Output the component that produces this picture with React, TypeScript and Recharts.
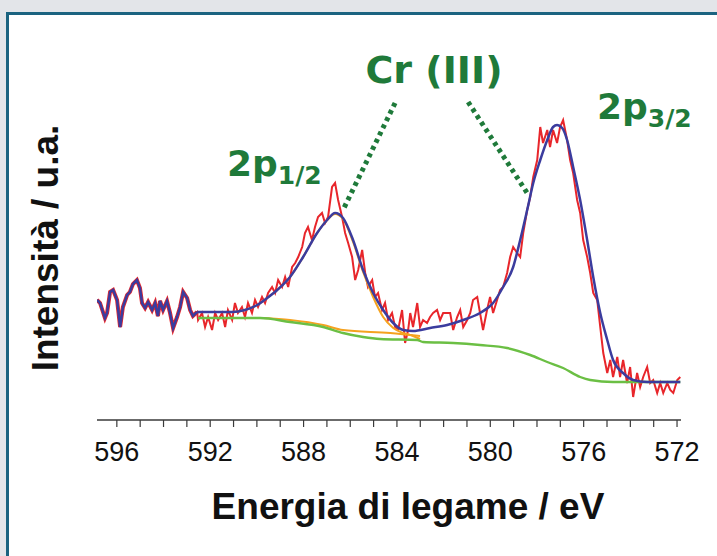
import React from 'react';
import { LineChart, Line, XAxis, YAxis, ReferenceLine } from 'recharts';

// Region left of the fit window (raw data, drawn by both the raw and envelope series)
const leftEnergy = [596.85,596.72,596.51,596.42,596.29,596.16,595.99,595.86,595.74,595.56,595.44,595.31,595.14,595.01,594.92,594.79,594.66,594.49,594.36,594.24,594.15,594.02,593.85,593.72,593.59,593.42,593.29,593.16,592.99,592.86,592.74,592.56];
const leftIntensity = [120,117,102,107,128,130,120,93,113,125,128,136,140,132,117,112,118,110,117,104,119,110,119,107,92,103,113,128,122,110,104,108];

// Raw spectrum in the fit window
const rawEnergy = [592.52,592.35,592.22,592.09,591.92,591.79,591.66,591.49,591.36,591.24,591.06,590.94,590.81,590.64,590.51,590.38,590.21,590.08,589.95,589.78,589.65,589.52,589.35,589.22,589.09,588.92,588.79,588.66,588.49,588.36,588.23,588.06,587.94,587.81,587.64,587.51,587.38,587.21,587.08,586.95,586.78,586.65,586.52,586.35,586.22,586.09,585.92,585.79,585.66,585.49,585.36,585.24,585.06,584.94,584.81,584.64,584.51,584.38,584.21,584.08,583.95,583.78,583.65,583.52,583.43,583.31,583.13,583.01,582.88,582.71,582.58,582.45,582.28,582.15,582.02,581.85,581.72,581.59,581.42,581.29,581.16,580.99,580.86,580.74,580.56,580.44,580.31,580.14,580.01,579.88,579.71,579.58,579.45,579.28,579.15,579.02,578.85,578.72,578.59,578.42,578.29,578.16,577.99,577.86,577.74,577.56,577.44,577.31,577.14,577.01,576.88,576.71,576.58,576.45,576.28,576.15,576.02,575.85,575.72,575.59,575.42,575.29,575.16,574.99,574.86,574.74,574.56,574.44,574.31,574.14,574.01,573.88,573.71,573.58,573.45,573.28,573.15,573.02,572.85,572.72,572.59,572.42,572.29,572.16,571.99,571.86];
const rawIntensity = [100,107,93,103,90,107,100,107,93,110,100,117,107,113,103,117,107,120,113,123,117,127,133,127,140,133,143,133,153,157,163,173,187,193,180,193,203,207,197,203,233,237,220,203,187,177,163,140,150,170,147,133,140,123,127,110,117,100,107,93,90,110,77,90,107,93,117,93,100,97,103,107,110,100,107,107,107,90,103,110,93,100,107,120,123,107,90,110,123,107,120,130,133,147,163,173,167,163,187,210,223,243,260,293,277,290,273,290,277,293,300,280,260,247,220,207,180,163,147,127,120,93,67,47,60,43,63,43,60,37,53,23,47,33,43,53,37,40,27,37,27,37,30,27,40,43];

// Fitted envelope
const fitEnergy = [592.56,591.06,590.51,589.99,589.56,589.13,588.58,588.02,587.42,586.99,586.65,586.31,585.88,585.45,585.02,584.59,584.16,583.73,583.31,582.58,581.85,581.16,580.44,579.88,579.45,579.02,578.72,578.42,578.16,577.86,577.56,577.31,577.14,576.92,576.71,576.45,576.15,575.85,575.59,575.29,574.99,574.74,574.31,573.88,573.28,571.86];
const fitIntensity = [108,108,110,115,122,130,143,163,187,200,207,202,180,150,127,110,97,90,89,92,95,100,107,117,133,153,180,210,237,260,280,293,295,292,280,253,220,180,143,107,80,60,47,40,38,38];

// Shirley background
const bgEnergy = [592.52,589.86,588.58,587.16,586.31,585.45,584.72,583.13,582.88,581.59,580.44,579.28,578.29,577.56,576.88,576.15,575.72,574.74,571.86];
const bgIntensity = [102,102,98,93,87,83,81,80,78,77,75,72,65,58,52,43,40,38,38];

// 2p1/2 component and its background
const compEnergy = [592.52,591.06,590.51,589.99,589.56,589.13,588.58,588.02,587.42,586.99,586.65,586.31,585.88,585.45,585.02,584.59,584.16,583.73,583.31,583.01];
const compIntensity = [108,108,110,115,122,130,143,163,187,200,206,201,178,148,123,103,92,87,84,81];
const compBgEnergy = [589.73,588.58,587.16,586.31,584.29,583.01];
const compBgIntensity = [102,100,95,90,87,84];

const xTicks = [572,573,574,575,576,577,578,579,580,581,582,583,584,585,586,587,588,589,590,591,592,593,594,595,596];

const zip = (es: number[], is: number[]) => es.map((e, k) => ({ e, i: is[k] }));

const leftData = zip(leftEnergy, leftIntensity);
const rawData = zip([...leftEnergy, ...rawEnergy], [...leftIntensity, ...rawIntensity]);
const fitData = zip(fitEnergy, fitIntensity);
const bgData = zip(bgEnergy, bgIntensity);
const compData = zip(compEnergy, compIntensity);
const compBgData = zip(compBgEnergy, compBgIntensity);

const GREEN_TXT = '#1f7a3a';
const AX = 'Liberation Sans, Arial, sans-serif';
const LBL = 'DejaVu Sans, Verdana, sans-serif';

export default function App() {
  return (
    <div style={{ position: 'absolute', left: 0, top: 0, width: 717, height: 556, background: '#e3e5e9', overflow: 'hidden' }}>
      <div style={{ position: 'absolute', left: 6, top: 12, width: 800, height: 700, background: '#fff', border: '3px solid #1b6380' }} />
      <div style={{ position: 'absolute', left: 0, top: 0 }}>
        <LineChart width={717} height={556} margin={{ top: 50, left: 97, right: 36, bottom: 76 }}>
          <XAxis
            type="number"
            dataKey="e"
            domain={[571.83, 596.85]}
            reversed
            allowDataOverflow
            ticks={xTicks}
            interval={0}
            tickFormatter={(v: number) => (v % 4 === 0 ? String(v) : '')}
            height={60}
            tickSize={7}
            tickMargin={15}
            axisLine={{ stroke: '#3a3a3a', strokeWidth: 1.5 }}
            tickLine={{ stroke: '#3a3a3a', strokeWidth: 1.2 }}
            tick={{ fill: '#111', fontSize: 27, fontFamily: AX }}
          />
          <YAxis
            type="number"
            domain={[0, 370]}
            width={0}
            tick={false}
            tickLine={false}
            axisLine={{ stroke: '#3a3a3a', strokeWidth: 1.5 }}
          />
          <ReferenceLine segment={[{ x: 584.08, y: 317 }, { x: 586.31, y: 210 }]} stroke={GREEN_TXT} strokeWidth={5} strokeDasharray="4 4" ifOverflow="visible" />
          <ReferenceLine segment={[{ x: 580.95, y: 318 }, { x: 578.42, y: 227 }]} stroke={GREEN_TXT} strokeWidth={5} strokeDasharray="4 4" ifOverflow="visible" />
          <Line data={rawData} dataKey="i" type="linear" stroke="#e8262b" strokeWidth={2} dot={false} isAnimationActive={false} />
          <Line data={leftData} dataKey="i" type="linear" stroke="#e8262b" strokeWidth={4} dot={false} isAnimationActive={false} />
          <Line data={compData} dataKey="i" type="monotone" stroke="#f5a21f" strokeWidth={2} dot={false} isAnimationActive={false} />
          <Line data={compBgData} dataKey="i" type="monotone" stroke="#f5a21f" strokeWidth={2} dot={false} isAnimationActive={false} />
          <Line data={bgData} dataKey="i" type="monotone" stroke="#6bbf44" strokeWidth={2.4} dot={false} isAnimationActive={false} />
          <Line data={leftData} dataKey="i" type="linear" stroke="#3b3c9e" strokeWidth={2.5} dot={false} isAnimationActive={false} />
          <Line data={fitData} dataKey="i" type="monotone" stroke="#3b3c9e" strokeWidth={2.5} dot={false} isAnimationActive={false} />
        </LineChart>
      </div>
      <svg width={717} height={556} style={{ position: 'absolute', left: 0, top: 0, pointerEvents: 'none' }}>
        <text x={408} y={519} textAnchor="middle" fontFamily={AX} fontWeight="bold" fontSize={37} fill="#111">Energia di legame / eV</text>
        <text x={58} y={248} textAnchor="middle" fontFamily={AX} fontWeight="bold" fontSize={37} fill="#111" transform="rotate(-90 58 248)">Intensità / u.a.</text>
        <text x={434} y={83} textAnchor="middle" fontFamily={LBL} fontWeight="bold" fontSize={38} fill={GREEN_TXT}>Cr (III)</text>
        <text x={227} y={176} fontFamily={LBL} fontWeight="bold" fontSize={36} fill={GREEN_TXT}>2p<tspan fontSize={25} dy={8}>1/2</tspan></text>
        <text x={597} y={119} fontFamily={LBL} fontWeight="bold" fontSize={36} fill={GREEN_TXT}>2p<tspan fontSize={25} dy={8}>3/2</tspan></text>
      </svg>
    </div>
  );
}
